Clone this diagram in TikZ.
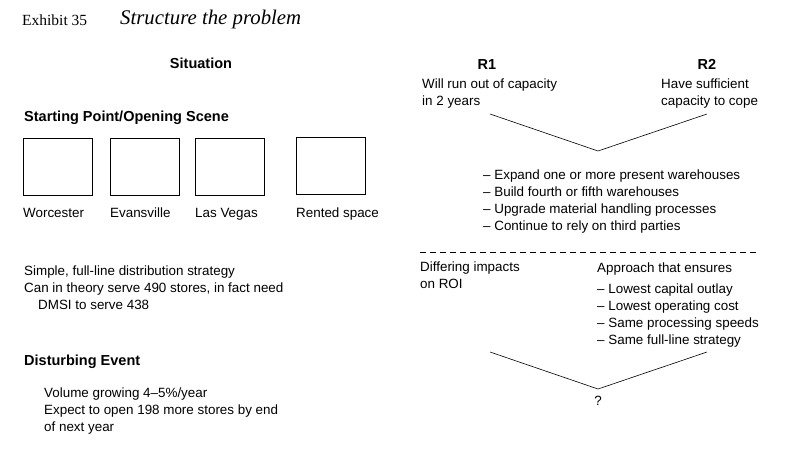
\documentclass[tikz,border=0pt]{standalone}
\usepackage{fontspec}
\setmainfont{Liberation Serif}
\setsansfont{Liberation Sans}
\usetikzlibrary{positioning}

\tikzset{
  txt/.style={font=\sffamily\fontsize{13.4}{17}\selectfont, inner sep=0pt, align=left},
  head/.style={font=\sffamily\bfseries\fontsize{14.5}{17}\selectfont, inner sep=0pt},
  site/.style={draw, line width=0.6pt, minimum width=69pt, minimum height=57pt, inner sep=0pt},
  vline/.style={line width=0.6pt}
}

\begin{document}
\begin{tikzpicture}[x=1pt, y=-1pt]

        \useasboundingbox (0,0) rectangle (791,455);

        % title
        \node[inner sep=0pt, anchor=base west, font=\fontsize{15.5}{18}\selectfont] (exhibit) at (22,25) {Exhibit 35};
        \node[inner sep=0pt, anchor=base west, font=\itshape\fontsize{20.8}{24}\selectfont] (title) at (120,24) {Structure the problem};

        % situation
        \node[head, anchor=base] (situation) at (201,68) {Situation};
        \node[head, anchor=base west] (start) at (24,121) {Starting Point/Opening Scene};

        \node[site, anchor=north west] (worcester) at (23,138) {};
        \node[site, anchor=north west] (evansville) at (110,138) {};
        \node[site, anchor=north west] (lasvegas) at (195,138) {};
        \node[site, anchor=north west] (rented) at (296,137) {};

        \node[txt, anchor=base west] (worcester_lbl) at (23,217) {Worcester};
        \node[txt, anchor=base west] (evansville_lbl) at (110,217) {Evansville};
        \node[txt, anchor=base west] (lasvegas_lbl) at (195,217) {Las Vegas};
        \node[txt, anchor=base west] (rented_lbl) at (296,217) {Rented space};

        % base of a multi-line node is the last line
        \node[txt, anchor=base west] (strategy) at (24,309) {Simple, full-line distribution strategy\\Can in theory serve 490 stores, in fact need\\\hspace*{14pt}DMSI to serve 438};

        % disturbing event
        \node[head, anchor=base west] (disturb) at (24,365) {Disturbing Event};
        \node[txt, anchor=base west] (volume) at (44,431) {Volume growing 4--5\%/year\\Expect to open 198 more stores by end\\of next year};

        % resolutions
        \node[head, anchor=base] (r1) at (487,69) {R1};
        \node[txt, anchor=base west] (r1_txt) at (422,105) {Will run out of capacity\\in 2 years};
        \node[head, anchor=base] (r2) at (707,69) {R2};
        \node[txt, anchor=base west] (r2_txt) at (661,105) {Have sufficient\\capacity to cope};

        \coordinate (v1_left) at (490,114);
        \coordinate (v1_tip) at (598,151);
        \coordinate (v1_right) at (707,114);
        \draw[vline] (v1_left) -- (v1_tip) -- (v1_right);

        \node[txt, anchor=base west] (options) at (483,230) {-- Expand one or more present warehouses\\-- Build fourth or fifth warehouses\\-- Upgrade material handling processes\\-- Continue to rely on third parties};

        \coordinate (dash_left) at (420,252);
        \coordinate (dash_right) at (758,252);
        \draw[vline, dash pattern=on 6pt off 4pt] (dash_left) -- (dash_right);

        \node[txt, anchor=base west] (roi) at (420,288) {Differing impacts\\on ROI};
        \node[txt, anchor=base west] (approach) at (597,272) {Approach that ensures};
        \node[txt, anchor=base west] (criteria) at (597,344) {-- Lowest capital outlay\\-- Lowest operating cost\\-- Same processing speeds\\-- Same full-line strategy};

        \coordinate (v2_left) at (490,352);
        \coordinate (v2_tip) at (598,389);
        \coordinate (v2_right) at (707,352);
        \draw[vline] (v2_left) -- (v2_tip) -- (v2_right);

        \node[txt, anchor=north] (question) [below=7pt of v2_tip] {?};

\end{tikzpicture}
\end{document}
